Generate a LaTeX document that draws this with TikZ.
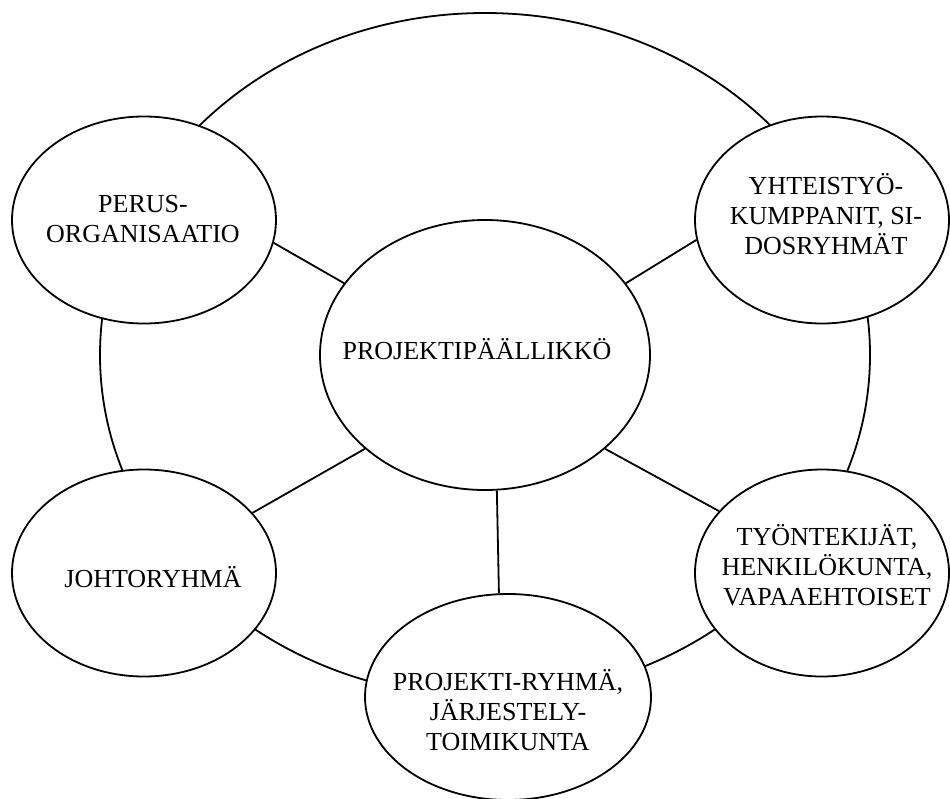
\documentclass[tikz,border=0pt]{standalone}
\usepackage{fontspec}
\setmainfont{Liberation Serif}
\usetikzlibrary{shapes.geometric}
\begin{document}
\begin{tikzpicture}[x=1pt,y=-1pt,
  blob/.style={draw, ellipse, fill=white, line width=1.8pt, inner sep=0pt},
  sat/.style={blob, minimum width=264pt, minimum height=207pt},
  lbl/.style={align=center, font=\fontsize{26}{30}\selectfont, inner sep=0pt},
  link/.style={line width=1.8pt}]
\useasboundingbox (0,0) rectangle (950,798);
% outer ring
\node[draw, ellipse, line width=1.8pt, inner sep=0pt,
      minimum width=770pt, minimum height=684pt] (ring) at (485,355) {};
% ellipses
\node[blob, minimum width=330pt, minimum height=270pt] (c) at (485,355) {};
\node[sat] (p) at (144,220) {};
\node[sat, minimum width=254pt] (y) at (822,220) {};
\node[sat, minimum width=254pt] (t) at (822,573) {};
\node[sat] (j) at (144,573) {};
\node[sat, minimum width=286pt, minimum height=206pt] (r) at (508,697) {};
% connectors
\draw[link] (c.153) -- (p.-10);
\draw[link] (c.27) -- (y.189);
\draw[link] (c.-38) -- (t.149);
\draw[link] (c.-142) -- (j.29);
\draw[link] (c.-85) -- (r.95);
% labels
\node[lbl] (tc) at (477,349) {PROJEKTIPÄÄLLIKKÖ};
\node[lbl] (tp) at (143,219) {PERUS-\\ORGANISAATIO};
\node[lbl] (ty) at (826,214) {YHTEISTYÖ-\\KUMPPANIT, SI-\\DOSRYHMÄT};
\node[lbl] (tt) at (827,565) {TYÖNTEKIJÄT,\\HENKILÖKUNTA,\\VAPAAEHTOISET};
\node[lbl] (tj) at (153,577) {JOHTORYHMÄ};
\node[lbl] (tr) at (508,710) {PROJEKTI-RYHMÄ,\\JÄRJESTELY-\\TOIMIKUNTA};
\end{tikzpicture}
\end{document}
